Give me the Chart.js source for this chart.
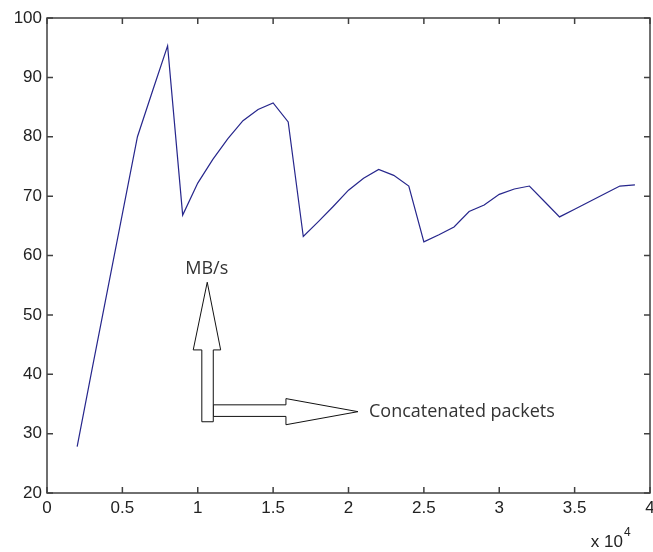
<!DOCTYPE html>
<html>
<head>
<meta charset="utf-8">
<script src="https://cdn.jsdelivr.net/npm/chart.js@4"></script>
<style>
  html, body { margin: 0; padding: 0; background: #fff; }
  #wrap { width: 653px; height: 552px; }
</style>
</head>
<body>
<div id="wrap"><canvas id="rateChart"></canvas></div>
<script>
// packets concatenated (x) vs throughput in MB/s (y)
const packets = [2000, 3000, 4000, 5000, 6000, 7000, 8000, 9000, 10000, 11000,
                 12000, 13000, 14000, 15000, 16000, 17000, 18000, 19000, 20000, 21000,
                 22000, 23000, 24000, 25000, 26000, 27000, 28000, 29000, 30000, 31000,
                 32000, 33000, 34000, 35000, 36000, 37000, 38000, 39000];
const rate = [27.8, 41, 54, 67, 80, 87.7, 95.3, 66.8, 72.2, 76.2,
              79.7, 82.7, 84.6, 85.7, 82.5, 63.2, 65.7, 68.3, 71, 73,
              74.5, 73.5, 71.7, 62.3, 63.5, 64.8, 67.4, 68.5, 70.3, 71.2,
              71.7, 69.1, 66.5, 67.8, 69.1, 70.4, 71.7, 71.9];
const xTicks = [0, 5000, 10000, 15000, 20000, 25000, 30000, 35000, 40000];
const yTicks = [20, 30, 40, 50, 60, 70, 80, 90, 100];

const tickFont = { family: "Liberation Sans, Arial, sans-serif", size: 17 };
const noteFont = "18px 'Open Sans', 'Noto Sans', sans-serif";

// MATLAB style box with inward ticks on all four sides
const boxPlugin = {
  id: "box",
  afterDraw(chart) {
    const { ctx, chartArea: a, scales: { x, y } } = chart;
    ctx.save();
    ctx.strokeStyle = "#404040";
    ctx.lineWidth = 1.5;
    ctx.strokeRect(a.left, a.top, a.right - a.left, a.bottom - a.top);
    ctx.beginPath();
    xTicks.forEach(v => {
      const px = x.getPixelForValue(v);
      ctx.moveTo(px, a.bottom); ctx.lineTo(px, a.bottom - 6);
      ctx.moveTo(px, a.top); ctx.lineTo(px, a.top + 6);
    });
    yTicks.forEach(v => {
      const py = y.getPixelForValue(v);
      ctx.moveTo(a.left, py); ctx.lineTo(a.left + 6, py);
      ctx.moveTo(a.right, py); ctx.lineTo(a.right - 6, py);
    });
    ctx.stroke();

    // x 10^4 exponent
    ctx.fillStyle = "#222";
    ctx.font = "17px Liberation Sans, Arial, sans-serif";
    ctx.textBaseline = "alphabetic";
    ctx.textAlign = "right";
    ctx.fillText("x 10", 623, 547);
    ctx.textAlign = "left";
    ctx.font = "12px Liberation Sans, Arial, sans-serif";
    ctx.fillText("4", 624, 536);
    ctx.restore();
  }
};

// hand drawn block arrows with labels
const arrowPlugin = {
  id: "arrows",
  afterDraw(chart) {
    const { ctx, scales: { x, y } } = chart;
    const P = (a, b) => [x.getPixelForValue(a), y.getPixelForValue(b)];
    const poly = pts => {
      ctx.beginPath();
      pts.forEach((p, i) => {
        const q = P(p[0], p[1]);
        i ? ctx.lineTo(q[0], q[1]) : ctx.moveTo(q[0], q[1]);
      });
      ctx.closePath();
      ctx.fill();
      ctx.stroke();
    };
    ctx.save();
    ctx.fillStyle = "#fff";
    ctx.strokeStyle = "#111";
    ctx.lineWidth = 1;
    // horizontal arrow
    poly([[11030, 34.85], [15850, 34.85], [15850, 35.9], [20630, 33.7],
          [15850, 31.5], [15850, 32.9], [11030, 32.9]]);
    // vertical arrow
    poly([[10270, 32.0], [11030, 32.0], [11030, 44.1], [11520, 44.1],
          [10630, 55.5], [9700, 44.1], [10270, 44.1]]);

    ctx.fillStyle = "#333";
    ctx.font = noteFont;
    ctx.textBaseline = "middle";
    ctx.textAlign = "center";
    let p = P(10600, 57.8);
    ctx.fillText("MB/s", p[0], p[1]);
    ctx.textAlign = "left";
    p = P(21360, 33.7);
    ctx.fillText("Concatenated packets", p[0], p[1]);
    ctx.restore();
  }
};

new Chart(document.getElementById("rateChart"), {
  type: "line",
  data: {
    labels: packets,
    datasets: [{
      data: packets.map((v, i) => ({ x: v, y: rate[i] })),
      borderColor: "#26268c",
      borderWidth: 1.2,
      pointRadius: 0,
      tension: 0,
      fill: false
    }]
  },
  options: {
    responsive: true,
    maintainAspectRatio: false,
    animation: false,
    layout: { padding: { top: 18, right: 3, left: 0, bottom: 0 } },
    plugins: { legend: { display: false }, tooltip: { enabled: false } },
    scales: {
      x: {
        type: "linear",
        min: 0,
        max: 40000,
        afterBuildTicks: s => { s.ticks = xTicks.map(v => ({ value: v })); },
        afterFit: s => { s.height = 59; s.paddingLeft = 0; s.paddingRight = 0; },
        grid: { display: false, drawTicks: false },
        border: { display: false },
        ticks: {
          color: "#222",
          font: tickFont,
          padding: 5,
          maxRotation: 0,
          autoSkip: false,
          callback: v => String(v / 10000)
        }
      },
      y: {
        min: 20,
        max: 100,
        afterBuildTicks: s => { s.ticks = yTicks.map(v => ({ value: v })); },
        afterFit: s => { s.width = 47; s.paddingTop = 0; s.paddingBottom = 0; },
        grid: { display: false, drawTicks: false },
        border: { display: false },
        ticks: { color: "#222", font: tickFont, padding: 5 }
      }
    }
  },
  plugins: [boxPlugin, arrowPlugin]
});
</script>
</body>
</html>
